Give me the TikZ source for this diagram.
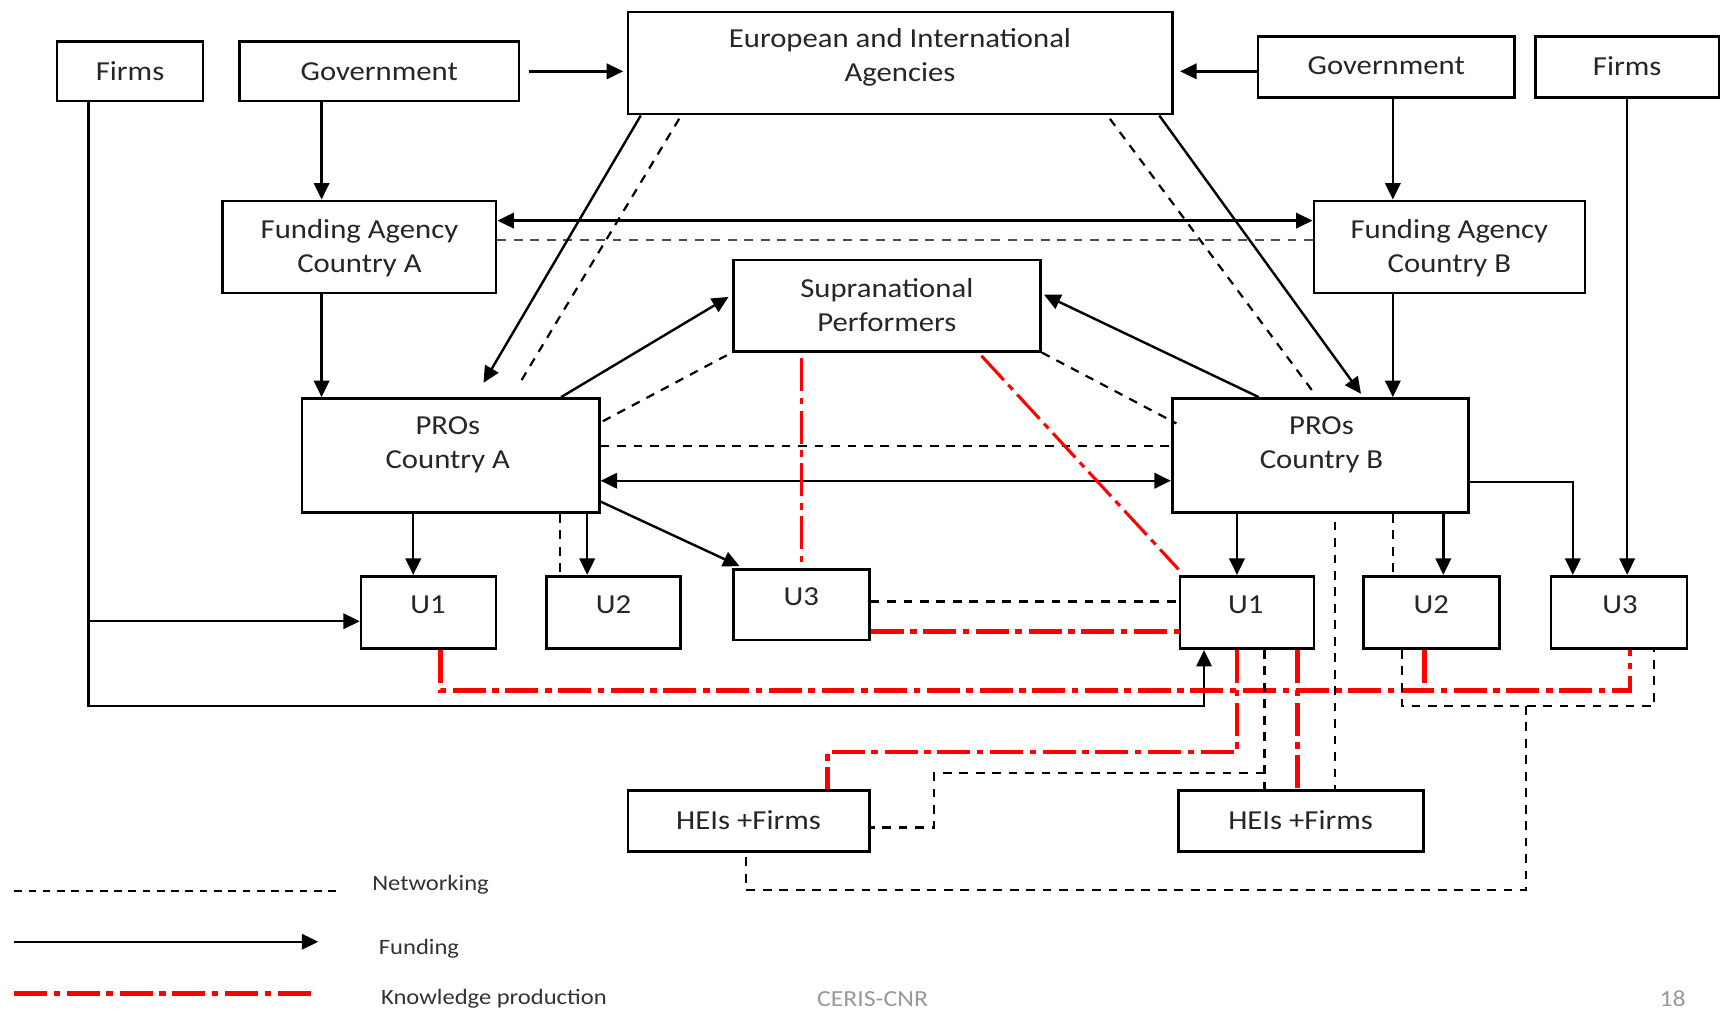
\documentclass[tikz,border=0pt]{standalone}
\usepackage{fontspec}
\setmainfont{Carlito}[FakeStretch=1.12]
\usetikzlibrary{arrows.meta,calc}

\tikzset{every picture/.style={line width=0.75pt}}
\tikzset{
  box/.style={draw, line width=1.2pt, inner sep=0pt},
  txt/.style={inner sep=0.75pt, align=center, text=black!85, font=\fontsize{12.5}{15.5}\selectfont},
  legtxt/.style={inner sep=0.75pt, anchor=west, text=black!80, font=\fontsize{10}{12}\selectfont},
  foot/.style={inner sep=0.75pt, text=black!40, font=\fontsize{10.5}{12}\selectfont},
  fund/.style={line width=1.1pt, -{Triangle[length=7.5pt,width=7pt]}},
  fundboth/.style={line width=1.1pt, {Triangle[length=7.5pt,width=7pt]}-{Triangle[length=7.5pt,width=7pt]}},
  net/.style={line width=1pt, dash pattern=on 4pt off 3.5pt},
  know/.style={draw=red, line width=2.2pt, dash pattern=on 15pt off 3pt on 3pt off 3pt},
  knowthin/.style={draw=red, line width=1.4pt, dash pattern=on 15pt off 3pt on 3pt off 3pt}
}

\begin{document}
\begin{tikzpicture}[x=0.5pt,y=0.5pt,yscale=-1,xscale=1]
%set diagram left start at 0, and has height of 922
\useasboundingbox (0,0) rectangle (1568,922);

%Shape: Rectangle
\node [box, minimum width=66.5pt, minimum height=27pt] (firmsa) at (118.5,65) {};
\node [box, minimum width=127.5pt, minimum height=27pt] (gova) at (345.5,65) {};
\node [box, minimum width=248pt, minimum height=46.5pt] (eia) at (820,57.5) {};
\node [box, minimum width=117pt, minimum height=28pt] (govb) at (1263,61) {};
\node [box, minimum width=83.5pt, minimum height=28pt] (firmsb) at (1482.5,61) {};
%Shape: Rectangle
\node [box, minimum width=124.5pt, minimum height=42pt] (faa) at (327.5,225) {};
\node [box, minimum width=123.5pt, minimum height=42pt] (fab) at (1320.5,225) {};
\node [box, minimum width=140pt, minimum height=41.5pt] (supra) at (808,278.5) {};
\node [box, minimum width=135.5pt, minimum height=52pt] (proa) at (410.5,415) {};
\node [box, minimum width=135pt, minimum height=52pt] (prob) at (1203,415) {};
%Shape: Rectangle
\node [box, minimum width=61.5pt, minimum height=33pt] (u1a) at (390.5,558) {};
\node [box, minimum width=61pt, minimum height=33pt] (u2a) at (559,558) {};
\node [box, minimum width=62pt, minimum height=32pt] (u3a) at (730,551) {};
\node [box, minimum width=61pt, minimum height=33pt] (u1b) at (1136,558) {};
\node [box, minimum width=62pt, minimum height=33pt] (u2b) at (1304,558) {};
\node [box, minimum width=62pt, minimum height=33pt] (u3b) at (1475,558) {};
\node [box, minimum width=110pt, minimum height=28pt] (heia) at (682,748) {};
\node [box, minimum width=111.5pt, minimum height=28pt] (heib) at (1185.5,748) {};

%Straight Lines
\coordinate (xa) at (293,0);
\coordinate (xb) at (1269,0);
\draw [fund, shorten >=1.5pt] ([xshift=4pt]gova.east) -- (gova.east -| eia.west);
\draw [fund, shorten >=3pt] (govb.west |- gova.east) -- (eia.east |- gova.east);
\draw [fund] (gova.south -| xa) -- (faa.north -| xa);
\draw [fund] (faa.south -| xa) -- (proa.north -| xa);
\draw [fund] (govb.south -| xb) -- (fab.north -| xb);
\draw [fund] (fab.south -| xb) -- (prob.north -| xb);
\draw [fundboth] ($(faa.east)+(0,-24)$) -- ($(fab.west)+(0,-24)$);
\draw [net, draw=black!70] ($(faa.east)+(0,-6)$) -- ($(fab.west)+(0,-6)$);
%Straight Lines
\draw [fund] ($(eia.south west)+(13,0)$) -- ($(proa.north)+(30,-13)$);
\draw [net] ($(eia.south west)+(48,3)$) -- ($(proa.north)+(62,-11)$);
\draw [fund] ($(eia.south east)+(-13,0)$) -- ($(prob.north)+(37,-3)$);
\draw [net] ($(eia.south east)+(-58,3)$) -- ($(prob.north)+(-6,-4)$);
%Straight Lines
\draw [fund] ($(proa.north east)+(-36,0)$) -- ($(supra.west)+(-3,-8)$);
\draw [fund] ($(prob.north west)+(80,0)$) -- ($(supra.east)+(2,-10)$);
\draw [net] ($(proa.north east)+(2,22)$) -- (supra.south west);
\draw [net] (supra.south east) -- ($(prob.north west)+(5,24)$);
\draw [net] ($(proa.east)+(0,-9)$) -- ($(prob.west)+(0,-9)$);
\draw [fundboth] ($(proa.east)+(0,23)$) -- ($(prob.west)+(0,23)$);
%Straight Lines
\coordinate (u1a-in) at ($(u1a.north)+(-14,0)$);
\coordinate (u2a-in) at ($(u2a.north)+(-24,0)$);
\coordinate (u2a-net) at ($(u2a.north)+(-49,0)$);
\draw [fund] (proa.south -| u1a-in) -- (u1a-in);
\draw [fund] (proa.south -| u2a-in) -- (u2a-in);
\draw [net] (proa.south -| u2a-net) -- (u2a-net);
\draw [fund] ($(proa.east)+(0,42)$) -- ($(u3a.north west)+(7,-2)$);
\draw [knowthin] ($(u3a.north |- supra.south)+(0,5)$) -- (u3a.north);
\draw [knowthin] ($(supra.south east)+(-55,3)$) -- ($(u1b.north west)+(0,-5)$);
\draw [net] ($(u3a.east)+(0,-3)$) -- ($(u3a.east -| u1b.west)+(0,-3)$);
\draw [know] ($(u3a.east)+(0,24)$) -- ($(u3a.east -| u1b.west)+(5,24)$);
%Straight Lines
\coordinate (u1b-in) at ($(u1b.north)+(-9,0)$);
\coordinate (u2b-in) at ($(u2b.north)+(11,0)$);
\coordinate (u2b-netin) at ($(u2b.north)+(-35,0)$);
\coordinate (u3b-in) at ($(u3b.north)+(-42,0)$);
\draw [fund] (prob.south -| u1b-in) -- (u1b-in);
\draw [fund] (prob.south -| u2b-in) -- (u2b-in);
\draw [net] (prob.south -| u2b-netin) -- (u2b-netin);
\draw [fund] ($(prob.east)+(0,24)$) -| (u3b-in);
\draw [fund] (firmsb.south) -- (firmsb.south |- u3b.north);
%Straight Lines
\coordinate (firma-x) at ($(firmsa.south)+(-38,0)$);
\coordinate (u1b-up) at ($(u1b.south)+(-39,0)$);
\coordinate (u1a-left) at ($(u1a.west)+(0,8)$);
\draw [fund] (firma-x) |- ($(u1b-up)+(0,51)$) -- (u1b-up);
\draw [fund] (firma-x |- u1a-left) -- (u1a-left);
%Straight Lines
\coordinate (u1a-out) at ($(u1a.south)+(11,0)$);
\coordinate (u2b-out) at ($(u2b.south)+(-6,0)$);
\coordinate (u3b-out) at ($(u3b.south)+(10,0)$);
\coordinate (kline) at ($(u1a-out)+(0,37)$);
\draw [know] (u1a-out) |- (kline -| u3b-out) -- (u3b-out);
\draw [know] (u2b-out) -- (u2b-out |- kline);
\coordinate (u1b-out1) at ($(u1b.south)+(-9,0)$);
\coordinate (u1b-out2) at ($(u1b.south)+(46,0)$);
\coordinate (heia-in) at ($(heia.north)+(72,0)$);
\draw [know] (u1b-out1) -- ++(0,93) -| (heia-in);
\draw [know] (u1b-out2) -- (u1b-out2 |- heib.north);
%Straight Lines
\coordinate (u1b-net) at ($(u1b.south)+(16,0)$);
\coordinate (heib-in) at ($(heib.north)+(31,0)$);
\draw [net] (u1b-net) -- (u1b-net |- heib.north);
\draw [net] ($(u1b-net)+(0,112)$) -| ($(heia.east)+(58,6)$) -- ($(heia.east)+(0,6)$);
\draw [net] ($(prob.south -| heib-in)+(0,7)$) -- (heib-in);
\coordinate (u2b-net) at ($(u2b.south)+(-27,0)$);
\coordinate (u3b-net) at ($(u3b.south)+(32,0)$);
\draw [net] (u2b-net) |- ($(u3b-net)+(0,51)$) -- (u3b-net);
\draw [net] ($(u2b.south)+(86,51)$) |- ($(heia.south)+(-2,34)$) -- ($(heia.south)+(-2,0)$);

%Straight Lines (legend)
\coordinate (leg-a1) at (13,812);
\coordinate (leg-b1) at (308,812);
\coordinate (leg-a2) at (13,858);
\coordinate (leg-b2) at (290,858);
\coordinate (leg-a3) at (13,905);
\coordinate (leg-b3) at (285,905);
\draw [net, line width=0.8pt, dash pattern=on 3.5pt off 3pt] (leg-a1) -- (leg-b1);
\draw [fund] (leg-a2) -- (leg-b2);
\draw [know] (leg-a3) -- (leg-b3);

% Text Node
\node [txt] (firmsa-t) at (118.5,65) {Firms};
\node [txt] (gova-t) at (345.5,65) {Government};
\node [txt] (eia-t) at (820,52) {European and International\\Agencies};
\node [txt] (govb-t) at (1263,60) {Government};
\node [txt] (firmsb-t) at (1482.5,60) {Firms};
% Text Node
\node [txt] (faa-t) at (327.5,226) {Funding Agency\\Country A};
\node [txt] (fab-t) at (1320.5,226) {Funding Agency\\Country B};
\node [txt] (supra-t) at (808,278) {Supranational\\Performers};
\node [txt] (proa-t) at (408,405) {PROs\\Country A};
\node [txt] (prob-t) at (1204,405) {PROs\\Country B};
% Text Node
\node [txt] (u1a-t) at (390,551) {U1};
\node [txt] (u2a-t) at (559,551) {U2};
\node [txt] (u3a-t) at (730,544) {U3};
\node [txt] (u1b-t) at (1135,551) {U1};
\node [txt] (u2b-t) at (1304,551) {U2};
\node [txt] (u3b-t) at (1476,551) {U3};
\node [txt] (heia-t) at (682,747) {HEIs +Firms};
\node [txt] (heib-t) at (1185,747) {HEIs +Firms};
% Text Node
\node [legtxt] (leg-net) at (337,806) {Networking};
\node [legtxt] (leg-fund) at (343,864) {Funding};
\node [legtxt] (leg-know) at (345,910) {Knowledge production};
\node [foot, anchor=south] (ceris) at (795,919) {CERIS-CNR};
\node [foot, anchor=south] (page) at (1524,919) {18};

\end{tikzpicture}
\end{document}
